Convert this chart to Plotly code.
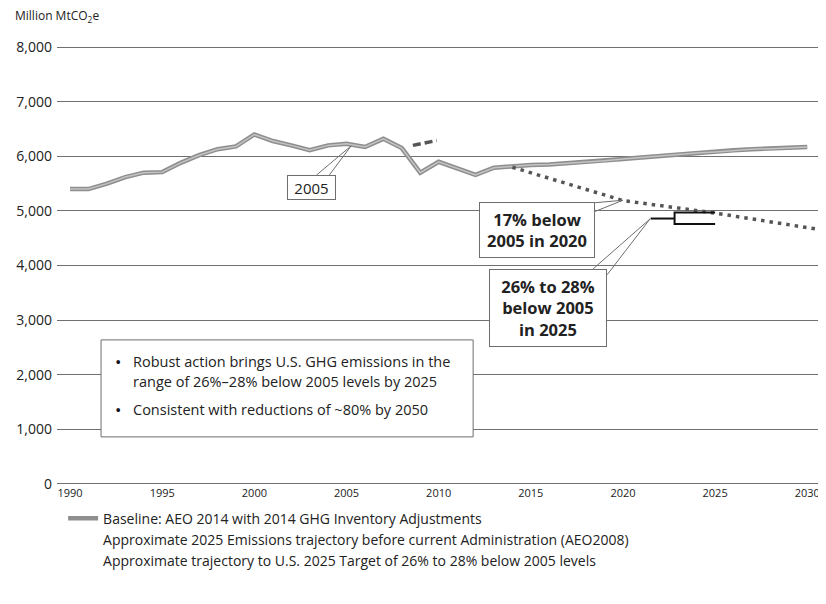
import plotly.graph_objects as go

# baseline (AEO 2014 w/ 2014 inventory adjustments), Million MtCO2e
base_years = list(range(1990, 2031))
base_values = [5400, 5400, 5500, 5620, 5700, 5710, 5880, 6020, 6130, 6180,
               6400, 6280, 6200, 6110, 6200, 6230, 6170, 6320, 6150, 5700,
               5900, 5780, 5660, 5790, 5820, 5840, 5850, 5870, 5890, 5920,
               5950, 5980, 6010, 6040, 6060, 6080, 6110, 6130, 6140, 6160,
               6170]

# pre-administration trajectory (AEO2008), short segment
aeo_years = [2008.6, 2009.9]
aeo_values = [6200, 6290]

# approximate trajectory to 2025 target
target_years = [2014, 2020, 2025, 2030, 2031]
target_values = [5800, 5190, 4960, 4700, 4640]

# 26%-28% bracket at 2025
bracket_x = [2025, 2022.8, 2022.8, 2025, None, 2021.5, 2022.8]
bracket_y = [4970, 4970, 4760, 4760, None, 4860, 4860]

y_ticks = [0, 1000, 2000, 3000, 4000, 5000, 6000, 7000, 8000]
y_labels = ["0", "1,000", "2,000", "3,000", "4,000", "5,000", "6,000", "7,000", "8,000"]
x_ticks = [1990, 1995, 2000, 2005, 2010, 2015, 2020, 2025, 2030]

legend_names = [
    "Baseline: AEO 2014 with 2014 GHG Inventory Adjustments",
    "Approximate 2025 Emissions trajectory before current Administration (AEO2008)",
    "Approximate trajectory to U.S. 2025 Target of 26% to 28% below 2005 levels",
]

FONT = "Open Sans"
TXT = "#222222"

fig = go.Figure()

fig.add_trace(go.Scatter(x=base_years, y=base_values, mode="lines",
                         line=dict(color="#8e8e8e", width=4.5),
                         name=legend_names[0], legendgroup="a", showlegend=True))
fig.add_trace(go.Scatter(x=base_years, y=base_values, mode="lines",
                         line=dict(color="#c4c4c4", width=1.5),
                         showlegend=False, hoverinfo="skip"))
fig.add_trace(go.Scatter(x=aeo_years, y=aeo_values, mode="lines",
                         line=dict(color="#555555", width=3.5, dash="8px,4px"),
                         showlegend=False))
fig.add_trace(go.Scatter(x=target_years, y=target_values, mode="lines",
                         line=dict(color="#555555", width=3.5, dash="3.5px,5px"),
                         showlegend=False))
fig.add_trace(go.Scatter(x=bracket_x, y=bracket_y, mode="lines",
                         line=dict(color="#111111", width=2),
                         showlegend=False))

# legend entries without visible symbol (as in the source figure)
for i, nm in enumerate(legend_names[1:]):
    fig.add_trace(go.Scatter(x=[None], y=[None], mode="lines",
                             line=dict(color="rgba(0,0,0,0)", width=1),
                             name=nm, legendgroup="g%d" % i, showlegend=True))

# callout boxes
box_kw = dict(xref="x", yref="y", showarrow=False, bgcolor="white",
              bordercolor="#6e6e6e", borderwidth=1, borderpad=0, align="center")
fig.add_annotation(x=2003.10, y=5430, text="2005", width=47, height=23,
                   font=dict(family=FONT, size=15, color=TXT), **box_kw)
fig.add_annotation(x=2015.34, y=4652, text="<b>17% below<br>2005 in 2020</b>",
                   width=114, height=54,
                   font=dict(family=FONT, size=16.5, color=TXT), **box_kw)
fig.add_annotation(x=2015.94, y=3223, text="<b>26% to 28%<br>below 2005<br>in 2025</b>",
                   width=116, height=76,
                   font=dict(family=FONT, size=16.5, color=TXT), **box_kw)

# pointer wedges
wedge = dict(type="path", xref="x", yref="y", line=dict(color="#6e6e6e", width=1))
fig.add_shape(path="M 2003.38,5659 L 2005.25,6190 L 2004.07,5659", **wedge)
fig.add_shape(path="M 2018.49,5150 L 2020.0,5195 L 2018.49,4990", **wedge)
fig.add_shape(path="M 2018.38,3938 L 2021.47,4853 L 2019.14,3830", **wedge)

# summary text box
fig.add_shape(type="rect", xref="x", yref="y", x0=1991.68, x1=2011.87, y0=861, y1=2637,
              fillcolor="white", line=dict(color="#6e6e6e", width=1))
txt_kw = dict(xref="x", yref="y", showarrow=False, xanchor="left", yanchor="middle",
              font=dict(family=FONT, size=14.5, color=TXT))
fig.add_annotation(x=1993.3, y=2240, text="Robust action brings U.S. GHG emissions in the", **txt_kw)
fig.add_annotation(x=1993.3, y=1874, text="range of 26%\u201328% below 2005 levels by 2025", **txt_kw)
fig.add_annotation(x=1993.3, y=1355, text="Consistent with reductions of ~80% by 2050", **txt_kw)
for yy in (2240, 1355):
    fig.add_annotation(x=1992.6, y=yy, text="\u2022", xref="x", yref="y", showarrow=False,
                       xanchor="center", yanchor="middle",
                       font=dict(family=FONT, size=17, color="#111111"))

# axis unit label
fig.add_annotation(x=-0.058, y=1.0686, xref="paper", yref="paper", showarrow=False,
                   xanchor="left", yanchor="middle", text="Million MtCO<sub>2</sub>e",
                   font=dict(family=FONT, size=12, color=TXT))

fig.update_xaxes(range=[1989.29, 2030.80], tickvals=x_ticks, showgrid=False,
                 zeroline=False, showline=False, ticks="", automargin=False,
                 tickfont=dict(family=FONT, size=11, color=TXT))
fig.update_yaxes(range=[-20, 8020], tickvals=y_ticks, ticktext=y_labels,
                 showgrid=True, gridcolor="#707070", gridwidth=1,
                 zeroline=False, showline=False, ticks="", ticklabelstandoff=4,
                 automargin=False,
                 tickfont=dict(family=FONT, size=14, color=TXT))

# page body has an 8px default margin, so the plot box is shifted back by that much
fig.update_layout(
    width=826, height=604,
    margin=dict(l=49, r=12, t=38, b=127),
    plot_bgcolor="white", paper_bgcolor="white",
    font=dict(family=FONT, color=TXT),
    legend=dict(x=0.008, y=-0.040, xanchor="left", yanchor="top",
                orientation="v", tracegroupgap=0, traceorder="grouped",
                font=dict(family=FONT, size=14, color=TXT),
                bgcolor="rgba(0,0,0,0)"),
    showlegend=True,
)

fig.write_html("out.html")
